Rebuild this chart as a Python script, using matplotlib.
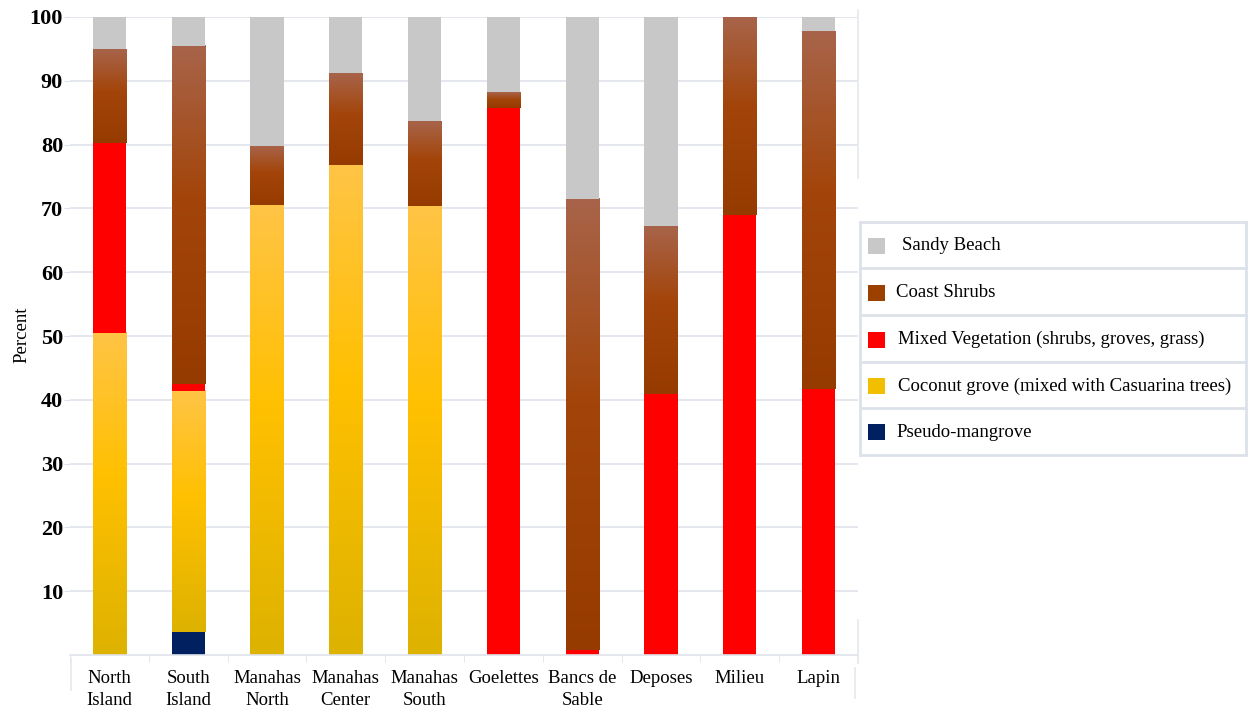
import numpy as np
import matplotlib
matplotlib.use("Agg")
import matplotlib.pyplot as plt
from matplotlib.colors import LinearSegmentedColormap
from matplotlib.patches import Rectangle
from matplotlib.lines import Line2D

plt.rcParams["font.family"] = ["Liberation Serif", "DejaVu Serif"]

# Site names and cover (percent) for each habitat class
sites = ["North\nIsland", "South\nIsland", "Manahas\nNorth", "Manahas\nCenter",
         "Manahas\nSouth", "Goelettes", "Bancs de\nSable", "Deposes", "Milieu", "Lapin"]
pseudo_mangrove = [0, 3.6, 0, 0, 0, 0, 0, 0, 0, 0]
coconut_grove = [50.5, 37.8, 70.5, 76.8, 70.4, 0, 0, 0, 0, 0]
mixed_vegetation = [29.8, 1.1, 0, 0, 0, 85.7, 0.8, 40.9, 69.0, 41.7]
coast_shrubs = [14.7, 53.0, 9.3, 14.4, 13.3, 2.5, 70.7, 26.3, 31.0, 56.1]
sandy_beach = [5.0, 4.5, 20.2, 8.8, 16.3, 11.8, 28.5, 32.8, 0, 2.2]

legend_labels = ["Sandy Beach", "Coast Shrubs", "Mixed Vegetation (shrubs, groves, grass)",
                 "Coconut grove (mixed with Casuarina trees)", "Pseudo-mangrove"]
legend_colors = ["#C8C8C8", "#9C4000", "#FF0000", "#F2BF00", "#002060"]

# vertical gradients (bottom -> top) for the two shaded classes
coconut_cmap = LinearSegmentedColormap.from_list(
    "coconut", [(0.0, "#DDB200"), (0.55, "#FFC000"), (1.0, "#FFC446")])
shrub_cmap = LinearSegmentedColormap.from_list(
    "shrubs", [(0.0, "#963B00"), (0.55, "#A3450A"), (1.0, "#A8644A")])

W, H = 1248, 710
fig = plt.figure(figsize=(W / 100, H / 100), dpi=100)
ax = fig.add_axes([70 / W, 55 / H, (858 - 70) / W, (693 - 55) / H])

x = np.arange(len(sites))
width = 0.42


def gradient_bar(xc, bottom, height, cmap):
    if height <= 0:
        return
    grad = np.linspace(0, 1, 256).reshape(-1, 1)
    ax.imshow(grad, cmap=cmap, origin="lower", aspect="auto", interpolation="bilinear",
              extent=[xc - width / 2, xc + width / 2, bottom, bottom + height], zorder=2)


bottom = np.zeros(len(sites))
ax.bar(x, pseudo_mangrove, width, bottom=bottom, color="#002060", zorder=2)
bottom += pseudo_mangrove
for i in x:
    gradient_bar(i, bottom[i], coconut_grove[i], coconut_cmap)
bottom += coconut_grove
ax.bar(x, mixed_vegetation, width, bottom=bottom, color="#FF0000", zorder=2)
bottom += mixed_vegetation
for i in x:
    gradient_bar(i, bottom[i], coast_shrubs[i], shrub_cmap)
bottom += coast_shrubs
ax.bar(x, sandy_beach, width, bottom=bottom, color="#C8C8C8", zorder=2)

ax.set_xlim(-0.5, len(sites) - 0.5)
ax.set_ylim(0, 100)
ax.set_yticks(np.arange(10, 101, 10))
ax.set_yticklabels([str(v) for v in range(10, 101, 10)], fontsize=16, fontweight="bold")
ax.yaxis.grid(True, color="#DFE3EB", linewidth=1.2, zorder=0)
ax.set_axisbelow(True)
ax.tick_params(axis="y", length=4, color="#DFE3EB", pad=1)

ax.set_xticks(x)
ax.set_xticklabels(sites, fontsize=13.5, linespacing=1.35)
ax.tick_params(axis="x", length=0, pad=11)
ax.set_xticks(np.arange(-0.5, len(sites), 1), minor=True)
ax.tick_params(axis="x", which="minor", length=5, color="#DFE3EB")

for s in ["top", "left", "right"]:
    ax.spines[s].set_visible(False)
ax.spines["bottom"].set_color("#DFE3EB")
ax.spines["bottom"].set_linewidth(1.2)

fig.text(22 / W, 1 - 335 / H, "Percent", fontsize=13.5, rotation=90, ha="center", va="center")

# frame lines around the plot and category label area
fig.add_artist(Line2D([71 / W, 71 / W], [20 / H, 52 / H], color="#E4E7EE", lw=1.2))
fig.add_artist(Line2D([855 / W, 855 / W], [12 / H, 42 / H], color="#E4E7EE", lw=1.2))
fig.add_artist(Line2D([858 / W, 858 / W], [47 / H, 90 / H], color="#E4E7EE", lw=1.2))
fig.add_artist(Line2D([858 / W, 858 / W], [1 - 178 / H, 1 - 10 / H], color="#E4E7EE", lw=1.2))

# legend drawn as a boxed table of rows
lx0, lx1 = 860, 1246
row_edges = [222, 268, 315, 362, 408, 455]
for yy in row_edges:
    fig.add_artist(Line2D([lx0 / W, lx1 / W], [1 - yy / H, 1 - yy / H], color="#DDE1E9", lw=2))
for xx in (lx0, lx1):
    fig.add_artist(Line2D([xx / W, xx / W], [1 - row_edges[0] / H, 1 - row_edges[-1] / H],
                          color="#DDE1E9", lw=2))
text_x = [902, 896, 898, 898, 896]
for k, (lab, col) in enumerate(zip(legend_labels, legend_colors)):
    yc = (row_edges[k] + row_edges[k + 1]) / 2 + 1
    fig.add_artist(Rectangle((868 / W, 1 - (yc + 8) / H), 17 / W, 16 / H,
                             facecolor=col, edgecolor="none"))
    fig.text(text_x[k] / W, 1 - yc / H, lab, fontsize=13.5, va="center", ha="left")

fig.savefig("out.png", dpi=100)
